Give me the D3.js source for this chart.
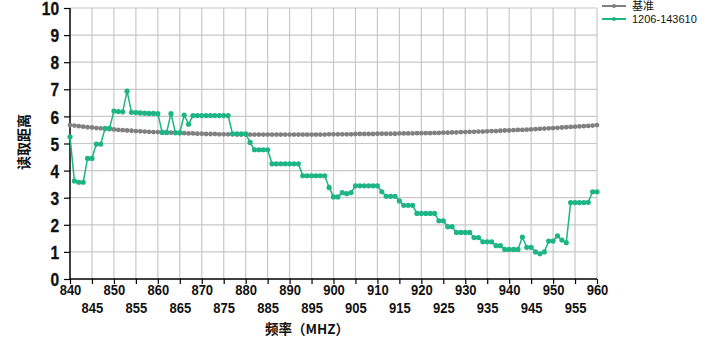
<!DOCTYPE html>
<html><head><meta charset="utf-8">
<script src="https://cdn.jsdelivr.net/npm/d3@7"></script>
<style>
body{margin:0;background:#fff;}
svg{display:block;}
.tk{font-family:"Liberation Sans",Arial,sans-serif;font-weight:bold;fill:#111;}
</style></head><body>
<svg id="c" width="712" height="341"></svg>
<script>
const freqStart = 840, freqEnd = 960;
const xTicks = [840,845,850,855,860,865,870,875,880,885,890,895,900,905,910,915,920,925,930,935,940,945,950,955,960];
const yTicks = [0,1,2,3,4,5,6,7,8,9,10];
const seriesNames = ["基准", "1206-143610"];
const baseline = [
 5.68,5.66,5.64,5.62,5.60,5.59,5.57,5.56,5.54,5.53,
 5.52,5.50,5.49,5.48,5.47,5.46,5.45,5.44,5.43,5.42,
 5.42,5.41,5.40,5.40,5.39,5.38,5.38,5.37,5.37,5.36,
 5.36,5.35,5.35,5.35,5.34,5.34,5.34,5.34,5.33,5.33,
 5.33,5.33,5.33,5.33,5.33,5.33,5.33,5.33,5.33,5.33,
 5.33,5.33,5.33,5.33,5.33,5.33,5.33,5.33,5.33,5.34,
 5.34,5.34,5.34,5.34,5.34,5.35,5.35,5.35,5.35,5.35,
 5.36,5.36,5.36,5.36,5.36,5.37,5.37,5.37,5.37,5.38,
 5.38,5.38,5.38,5.39,5.39,5.40,5.40,5.41,5.41,5.42,
 5.42,5.43,5.43,5.44,5.44,5.45,5.46,5.46,5.47,5.48,
 5.48,5.49,5.50,5.50,5.51,5.52,5.53,5.54,5.55,5.56,
 5.57,5.58,5.59,5.60,5.61,5.62,5.63,5.64,5.65,5.66,
 5.68
];
const measured = [
 5.25,3.62,3.57,3.57,4.45,4.45,4.98,4.98,5.56,5.56,
 6.20,6.18,6.17,6.93,6.15,6.14,6.13,6.12,6.11,6.11,
 6.10,5.41,5.41,6.10,5.40,5.40,6.05,5.71,6.03,6.03,
 6.03,6.03,6.03,6.03,6.03,6.03,6.03,5.36,5.36,5.36,
 5.36,5.04,4.77,4.77,4.77,4.77,4.25,4.25,4.25,4.25,
 4.25,4.25,4.25,3.81,3.81,3.81,3.81,3.81,3.81,3.38,
 3.03,3.03,3.19,3.15,3.19,3.44,3.44,3.44,3.44,3.44,
 3.44,3.22,3.05,3.05,3.05,2.88,2.72,2.72,2.72,2.42,
 2.42,2.42,2.42,2.42,2.15,2.15,1.93,1.93,1.72,1.72,
 1.72,1.72,1.53,1.53,1.37,1.37,1.37,1.23,1.23,1.09,
 1.09,1.09,1.09,1.55,1.17,1.17,1.00,0.93,1.00,1.40,
 1.40,1.59,1.44,1.34,2.82,2.82,2.82,2.82,2.83,3.22,
 3.22
];
const freqs = d3.range(freqStart, freqEnd + 1);

const svg = d3.select("#c");
const x = d3.scaleLinear().domain([freqStart, freqEnd]).range([70, 597]);
const y = d3.scaleLinear().domain([0, 10]).range([279, 8]);

// grid
svg.append("g").selectAll("line").data(yTicks.slice(1)).join("line")
  .attr("x1", 70).attr("x2", 597).attr("y1", d=>y(d)).attr("y2", d=>y(d))
  .attr("stroke", "#c8c8c8").attr("stroke-width", 1.2);
svg.append("g").selectAll("line").data(xTicks.slice(1)).join("line")
  .attr("y1", 8).attr("y2", 279).attr("x1", d=>x(d)).attr("x2", d=>x(d))
  .attr("stroke", "#c8c8c8").attr("stroke-width", 1.2);

// axes
const yAxis = svg.append("g").attr("transform","translate(70,0)")
  .call(d3.axisLeft(y).tickValues(yTicks).tickSize(6).tickPadding(3).tickFormat(d3.format("d")));
yAxis.select(".domain").attr("stroke","#000").attr("stroke-width",1.5).attr("d","M0,8V279");
yAxis.selectAll(".tick line").attr("stroke","#000").attr("stroke-width",1.2);
yAxis.selectAll("text").attr("class","tk").attr("font-size",18.5).attr("x",-13).attr("dy","0.36em")
  .attr("transform","scale(0.84,1)").attr("stroke","#111").attr("stroke-width",0.3);

const xAxis = svg.append("g").attr("transform","translate(0,279)")
  .call(d3.axisBottom(x).tickValues(xTicks).tickSize(5).tickFormat(d3.format("d")));
xAxis.select(".domain").attr("stroke","#000").attr("stroke-width",1.5).attr("d","M70,0H597");
xAxis.selectAll(".tick line").attr("stroke","#000").attr("stroke-width",1.2);
xAxis.selectAll("text").attr("class","tk").attr("font-size",15.5)
  .attr("y", d => (d % 10 === 0) ? 5 : 23).attr("dy","0.71em").attr("transform","scale(0.84,1)");

// titles
svg.append("text").attr("x", 307).attr("y", 334).attr("text-anchor","middle")
  .attr("font-family","'Noto Sans CJK SC',sans-serif").attr("font-weight","bold").attr("font-size",13.5)
  .attr("fill","#111").text("频率（MHZ）");
svg.append("text").attr("transform","translate(29,142) rotate(-90)").attr("text-anchor","middle")
  .attr("font-family","'Noto Sans CJK SC',sans-serif").attr("font-weight","bold").attr("font-size",14)
  .attr("fill","#111").text("读取距离");

// series
const colors = ["#808080", "#1db584"];
const datasets = [baseline, measured];
const line = d3.line().x((d,i)=>x(freqs[i])).y(d=>y(d));
datasets.forEach((arr, k) => {
  const g = svg.append("g");
  g.append("path").attr("d", line(arr)).attr("fill","none").attr("stroke", colors[k]).attr("stroke-width", 1.5);
  g.selectAll("circle").data(arr).join("circle")
    .attr("cx",(d,i)=>x(freqs[i])).attr("cy",d=>y(d)).attr("r", k===0 ? 2.4 : 2.6).attr("fill", colors[k]);
});

// legend
const lg = svg.append("g");
seriesNames.forEach((n, k) => {
  const ly = 6 + k * 13;
  lg.append("line").attr("x1",602).attr("x2",626).attr("y1",ly).attr("y2",ly).attr("stroke",colors[k]).attr("stroke-width",2);
  lg.append("circle").attr("cx",614).attr("cy",ly).attr("r",2).attr("fill",colors[k]);
  lg.append("text").attr("x",632).attr("y",ly).attr("dy","0.35em")
    .attr("font-family","'Liberation Sans','Noto Sans CJK SC',sans-serif").attr("font-size",11).attr("fill","#111").text(n);
});
</script>
</body></html>
